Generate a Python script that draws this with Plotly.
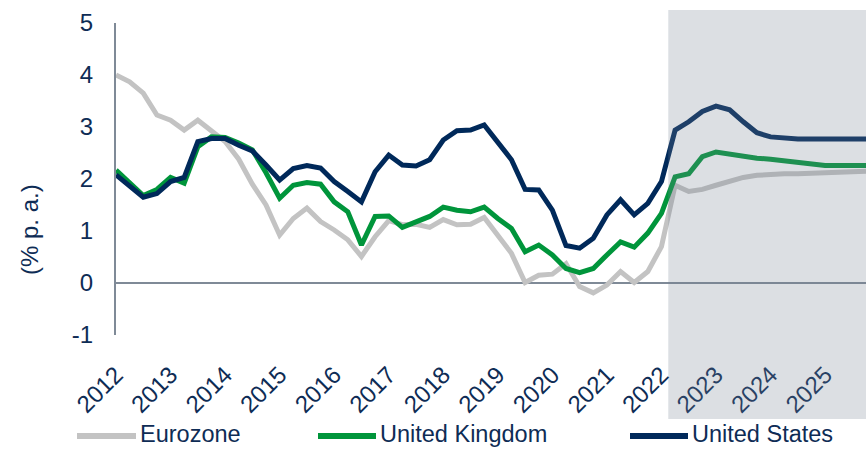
import plotly.graph_objects as go

# ---- data (quarterly, 2012Q1 .. 2025Q4) ----
years = list(range(2012, 2026))
quarters = [(y, q) for y in years for q in (1, 2, 3, 4)]
x_vals = [y + (q - 1) / 4 for (y, q) in quarters]

eurozone = [4.00, 3.87, 3.65, 3.23, 3.13, 2.94, 3.13, 2.93, 2.72, 2.38, 1.90, 1.50,
            0.92, 1.24, 1.44, 1.18, 1.02, 0.83, 0.51, 0.89, 1.20, 1.12, 1.13, 1.07,
            1.22, 1.12, 1.13, 1.26, 0.92, 0.57, 0.01, 0.15, 0.17, 0.37, -0.07, -0.19,
            -0.04, 0.22, 0.01, 0.22, 0.70, 1.88, 1.76, 1.80, 1.88, 1.96, 2.03, 2.07,
            2.09, 2.10, 2.10, 2.11, 2.12, 2.13, 2.14, 2.15]
united_kingdom = [2.17, 1.92, 1.68, 1.80, 2.03, 1.92, 2.62, 2.81, 2.80, 2.69, 2.56, 2.12,
                  1.63, 1.88, 1.93, 1.90, 1.56, 1.37, 0.73, 1.28, 1.29, 1.07, 1.18, 1.28,
                  1.46, 1.40, 1.37, 1.46, 1.24, 1.05, 0.60, 0.73, 0.54, 0.28, 0.20, 0.28,
                  0.54, 0.79, 0.69, 0.96, 1.34, 2.04, 2.10, 2.43, 2.52, 2.48, 2.43, 2.40,
                  2.38, 2.35, 2.31, 2.28, 2.26, 2.26, 2.26, 2.26]
united_states = [2.08, 1.87, 1.65, 1.72, 1.95, 2.03, 2.72, 2.78, 2.78, 2.65, 2.54, 2.27,
                 1.98, 2.20, 2.26, 2.21, 1.95, 1.76, 1.56, 2.14, 2.46, 2.27, 2.25, 2.37,
                 2.75, 2.93, 2.94, 3.04, 2.69, 2.37, 1.80, 1.79, 1.40, 0.72, 0.67, 0.86,
                 1.31, 1.60, 1.31, 1.53, 1.95, 2.94, 3.10, 3.30, 3.40, 3.33, 3.10, 2.89,
                 2.81, 2.78, 2.77, 2.77, 2.77, 2.77, 2.77, 2.77]

series_names = ["Eurozone", "United Kingdom", "United States"]
series_values = [eurozone, united_kingdom, united_states]
series_colors = ["#C3C3C3", "#00953B", "#00295A"]

tick_vals = years
tick_text = [str(y) for y in years]
y_ticks = [-1, 0, 1, 2, 3, 4, 5]
y_tick_text = ["-1", "0", "1", "2", "3", "4", "5"]
forecast_start = 2022.125

TEXT = "#0E2C55"
AXIS = "#7F8A97"
FONT = "Liberation Sans, Arial, sans-serif"

fig = go.Figure()
for name, vals, col in zip(series_names, series_values, series_colors):
    fig.add_trace(go.Scatter(x=x_vals, y=vals, mode="lines", name=name,
                             line=dict(color=col, width=5), showlegend=False))

# layout geometry
L, R, T, B = 116, 0, 23, 114
W, H = 866, 449
pw, ph = W - L - R, H - T - B

def px_x(px):
    return (px - L) / pw

def px_y(py):
    return (H - B - py) / ph

shapes = [
    dict(type="rect", xref="x", yref="paper", x0=forecast_start, x1=x_vals[-1] + 1,
         y0=px_y(419), y1=px_y(10), fillcolor="rgba(118,129,145,0.255)",
         line=dict(width=0), layer="above"),
]
annotations = [
    dict(text="(% p. a.)", xref="paper", yref="paper", x=px_x(29), y=px_y(230),
         textangle=-90, showarrow=False, xanchor="center", yanchor="middle",
         font=dict(family=FONT, size=24, color=TEXT)),
]
# custom legend
legend_y = 434
legend_line_px = [(77, 136), (318, 376), (630, 688)]
for (x0, x1), name, col in zip(legend_line_px, series_names, series_colors):
    shapes.append(dict(type="line", xref="paper", yref="paper",
                       x0=px_x(x0), x1=px_x(x1), y0=px_y(legend_y + 2), y1=px_y(legend_y + 2),
                       line=dict(color=col, width=6)))
    annotations.append(dict(text=name, xref="paper", yref="paper", x=px_x(x1 + 2),
                            y=px_y(legend_y), showarrow=False, xanchor="left",
                            yanchor="middle",
                            font=dict(family=FONT, size=23.5, color=TEXT)))

fig.update_layout(
    width=W, height=H,
    margin=dict(l=L, r=R, t=T, b=B, pad=0),
    plot_bgcolor="white", paper_bgcolor="white",
    font=dict(family=FONT, size=24, color=TEXT),
    showlegend=False,
    shapes=shapes, annotations=annotations,
    xaxis=dict(range=[x_vals[0], x_vals[-1]], tickvals=tick_vals, ticktext=tick_text,
               tickangle=-45, showgrid=False, zeroline=False, showline=False,
               ticks="", automargin=False, ticklabelstandoff=20,
               tickfont=dict(family=FONT, size=24, color=TEXT)),
    yaxis=dict(range=[-1, 5], tickvals=y_ticks, ticktext=y_tick_text, showgrid=False,
               zeroline=True, zerolinecolor=AXIS, zerolinewidth=2,
               showline=True, linecolor=AXIS, linewidth=2, ticks="",
               automargin=False, ticklabelstandoff=16,
               tickfont=dict(family=FONT, size=24, color=TEXT)),
)

fig.write_html("out.html", config={"displayModeBar": False},
               post_script="document.body.style.margin='0';document.body.style.overflow='hidden';")
